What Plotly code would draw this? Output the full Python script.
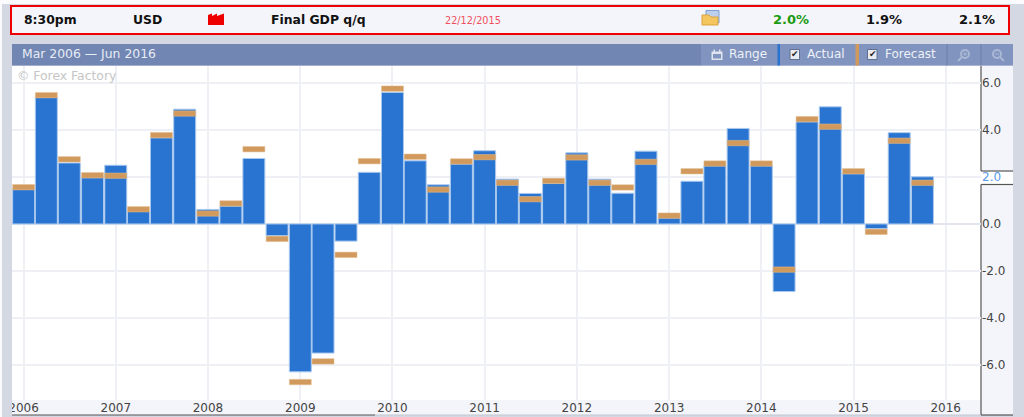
import plotly.graph_objects as go

W, H = 1024, 417

quarters = [f"{y}-{m}-01" for y in range(2006, 2016) for m in ("01", "04", "07", "10")]
actual = [1.47, 5.39, 2.60, 1.97, 2.50, 0.53, 3.67, 4.89, 0.62, 0.76,
          2.79, -0.50, -6.30, -5.50, -0.73, 2.20, 5.60, 2.69, 1.67, 2.55,
          3.12, 1.91, 1.30, 1.73, 3.03, 1.91, 1.31, 3.10, 0.26, 1.82,
          2.48, 4.07, 2.48, -2.88, 4.35, 4.99, 2.14, -0.20, 3.89, 2.01]
forecast = [1.68, 5.60, 2.87, 2.19, 2.17, 0.74, 3.90, 4.82, 0.56, 0.99,
            3.30, -0.52, -6.62, -5.74, -1.20, 2.79, 5.88, 2.98, 1.58, 2.78,
            2.96, 1.87, 1.17, 1.95, 2.95, 1.87, 1.67, 2.76, 0.47, 2.36,
            2.69, 3.56, 2.69, -1.83, 4.58, 4.26, 2.36, -0.22, 3.66, 1.87]
y_ticks = [6, 4, 2, 0, -2, -4, -6]
y_tick_labels = ["6.0", "4.0", "<span style='color:#5b9bea'>2.0</span>", "0.0", "-2.0", "-4.0", "-6.0"]

BLUE, BLUE_EDGE = "#2874d0", "#a9c8ee"
ORANGE, ORANGE_EDGE = "#d19a5c", "#e3bd92"
GRID = "#eef0f6"
PAGE = "#d4d8e3"
PANEL = "#f4f5fa"
FONT = "DejaVu Sans"
BAR_MS = 87 * 86400000
MARKER_THICK = 0.23
ICON = "#aab8d6"

fx = lambda p: p / W
fy = lambda p: 1 - p / H


def rect(x0, y0, x1, y1, fill, line=None, lw=0, layer="below"):
    return dict(type="rect", xref="paper", yref="paper", x0=fx(x0), x1=fx(x1), y0=fy(y0), y1=fy(y1),
                fillcolor=fill, line=dict(color=line or fill, width=lw), layer=layer)


def seg(x0, y0, x1, y1, color="#555555", lw=1.2, layer="below"):
    return dict(type="line", xref="paper", yref="paper", x0=fx(x0), x1=fx(x1), y0=fy(y0), y1=fy(y1),
                line=dict(color=color, width=lw), layer=layer)


def path(points, fill, layer="above", line=None, lw=0):
    d = "M" + "L".join(f"{fx(a):.5f},{fy(b):.5f}" for a, b in points) + "Z"
    return dict(type="path", xref="paper", yref="paper", path=d, fillcolor=fill,
                line=dict(color=line or fill, width=lw), layer=layer)


def ring(x0, y0, x1, y1):
    return dict(type="circle", xref="paper", yref="paper", x0=fx(x0), x1=fx(x1), y0=fy(y1), y1=fy(y0),
                line=dict(color=ICON, width=2), fillcolor="rgba(0,0,0,0)", layer="above")


def text(x, y, s, color="#111111", size=12.4, bold=False, anchor="left"):
    return dict(xref="paper", yref="paper", x=fx(x), y=fy(y), text=f"<b>{s}</b>" if bold else s,
                showarrow=False, xanchor=anchor, yanchor="middle", align="left",
                font=dict(family=FONT, size=size, color=color), borderpad=0, borderwidth=0)


shapes = [
    rect(0, 0, 1024, 4, "#fbfbfd"),
    rect(0, 0, 2, 417, "#fbfbfd"),
    rect(11, 6, 1009, 34, PANEL, "#f00000", 2, "above"),
    rect(12, 44, 701, 65.5, "#7186b3", layer="above"),
    rect(701, 44, 1013, 65.5, "#8094bf", layer="above"),
    rect(777.5, 44, 780, 65.5, "#2874d0", layer="above"),
    rect(855.5, 44, 859, 65.5, ORANGE, layer="above"),
    seg(947, 44, 947, 65.5, "#6b7fa9", 1, "above"),
    seg(981, 44, 981, 65.5, "#6b7fa9", 1, "above"),
    rect(12, 400, 981, 415, PANEL),
    rect(981, 66, 1013, 415, PANEL),
    rect(981, 171, 1013, 184.5, "#ffffff"),
    seg(981, 66, 981, 171),
    seg(981, 184.5, 981, 415),
    seg(981, 171, 1013, 171),
    seg(981, 184.5, 1013, 184.5),
    seg(981, 415, 1013, 415),
    seg(12, 415, 375, 415),
    seg(375, 415, 981, 415, "#c4c8d2"),
    rect(2, 395, 12, 417, PAGE, layer="above"),
    # factory icon
    path([(208, 25), (208, 15), (212, 13.5), (212, 16), (217, 13.5), (217, 16), (224, 13.5), (224, 25)], "#ee0000"),
    # folder icon
    rect(706, 10.5, 719, 23, "#bcd0ee", "#7c9fd6", 1, "above"),
    path([(702, 15), (709, 15), (711, 17), (718, 17), (718, 25), (702, 25)], "#f5c55f", line="#d9a441", lw=1),
    # calendar icon
    rect(711.5, 51.5, 722.5, 60, "#dfe4ef", layer="above"),
    rect(713, 54, 721, 58.5, "#8094bf", layer="above"),
    rect(713.5, 49.5, 715, 52, "#dfe4ef", layer="above"),
    rect(719, 49.5, 720.5, 52, "#dfe4ef", layer="above"),
    # check boxes
    rect(790, 49.5, 799.5, 59.5, "#e9ebf0", "#5f6f92", 1, "above"),
    rect(867.5, 49.5, 877, 59.5, "#e9ebf0", "#5f6f92", 1, "above"),
    # zoom icons
    ring(961, 50, 969, 58),
    seg(962, 57, 958, 61, ICON, 2, "above"),
    seg(963, 54, 967, 54, ICON, 1, "above"),
    seg(965, 52, 965, 56, ICON, 1, "above"),
    ring(993, 50, 1001, 58),
    seg(1000, 57, 1004, 61, ICON, 2, "above"),
    seg(995, 54, 999, 54, ICON, 1, "above"),
]

annotations = [
    text(24, 19, "8:30pm", bold=True),
    text(133, 19, "USD", bold=True),
    text(271, 19, "Final GDP q/q", bold=True),
    text(445, 20, "22/12/2015", color="#f0505f", size=9.7),
    text(773, 19, "2.0%", color="#1a9a12", bold=True, size=13),
    text(866, 19, "1.9%", bold=True, size=13),
    text(959, 19, "2.1%", bold=True, size=13),
    text(22, 54, "Mar 2006 — Jun 2016", color="#e8ecf5"),
    text(17, 75.5, "© Forex Factory", color="#c6c6c6"),
    text(729, 54, "Range", color="#eef1f7", size=12),
    text(807, 54, "Actual", color="#eef1f7", size=12),
    text(885, 54, "Forecast", color="#eef1f7", size=12),
    text(791, 54.5, "✔", color="#222222", size=9),
    text(868.5, 54.5, "✔", color="#222222", size=9),
]

fig = go.Figure()
fig.add_bar(x=quarters, y=actual, width=BAR_MS, name="Actual",
            marker=dict(color=BLUE, line=dict(color=BLUE_EDGE, width=1)))
fig.add_bar(x=quarters, y=[MARKER_THICK] * len(forecast), base=[f - MARKER_THICK for f in forecast],
            width=BAR_MS, name="Forecast",
            marker=dict(color=ORANGE, line=dict(color=ORANGE_EDGE, width=0.5)))

fig.update_layout(
    width=W, height=H, margin=dict(l=0, r=0, t=0, b=0, autoexpand=False), showlegend=False, barmode="overlay",
    paper_bgcolor=PAGE, plot_bgcolor="#ffffff", shapes=shapes, annotations=annotations,
    font=dict(family=FONT, size=12, color="#444444"),
    xaxis=dict(domain=[fx(12), fx(981)], type="date", range=["2005-11-16", "2016-05-20"],
               dtick="M12", tick0="2006-01-01", tickformat="%Y", gridcolor=GRID, gridwidth=1.5,
               ticks="", showline=False, zeroline=False, ticklabelstandoff=-1,
               tickfont=dict(size=12, color="#444444")),
    yaxis=dict(domain=[fy(400), fy(66)], range=[-7.5, 6.73], side="right", tickvals=y_ticks,
               ticktext=y_tick_labels, gridcolor=GRID, gridwidth=1.5, ticks="", showline=False,
               zeroline=True, zerolinecolor="#e2e5ee", zerolinewidth=1.5,
               tickfont=dict(size=12, color="#444444")),
)

fig.write_html("out.html", config=dict(displayModeBar=False),
               post_script="document.body.style.margin='0';")
